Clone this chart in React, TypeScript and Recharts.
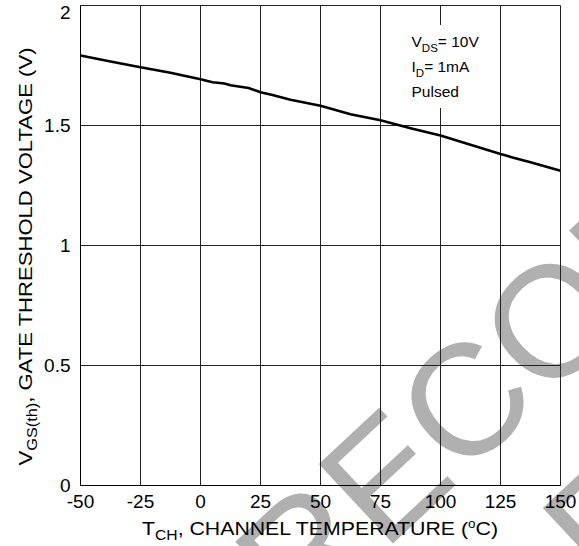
import React from 'react';
import { LineChart, Line, XAxis, YAxis, CartesianGrid } from 'recharts';

const temperatures = [-50, -37.5, -25, -12.5, 0, 5, 10, 12.5, 20, 25, 30, 37.5, 50, 62.5, 75, 87.5, 100, 112.5, 125, 130, 137.5, 150];
const vgsValues = [1.792, 1.767, 1.743, 1.72, 1.693, 1.68, 1.675, 1.668, 1.656, 1.639, 1.627, 1.607, 1.582, 1.547, 1.522, 1.489, 1.458, 1.42, 1.381, 1.367, 1.347, 1.311];
const xTicks = [-50, -25, 0, 25, 50, 75, 100, 125, 150];
const xTickLabels = ['-50', '-25', '0', '25', '50', '75', '100', '125', '150'];
const yTicks = [0, 0.5, 1, 1.5, 2];
const yTickLabels = ['0', '0.5', '1', '1.5', '2'];

const data = temperatures.map((t, i) => ({ t, v: vgsValues[i] }));

const FONT = 'Liberation Sans, Arial, Helvetica, sans-serif';

const YTick = (props: any) => {
  const { x, y, payload } = props;
  const idx = yTicks.indexOf(payload.value);
  const yy = Math.max(y, 12);
  return (
    <text x={x - 10} y={yy + 6.8} textAnchor="end" fontSize={19} fontFamily={FONT} fill="#000">
      {idx >= 0 ? yTickLabels[idx] : String(payload.value)}
    </text>
  );
};

const XTick = (props: any) => {
  const { x, y, payload } = props;
  const idx = xTicks.indexOf(payload.value);
  return (
    <text x={x} y={y + 22.5} textAnchor="middle" fontSize={19} fontFamily={FONT} fill="#000">
      {idx >= 0 ? xTickLabels[idx] : String(payload.value)}
    </text>
  );
};

export default function App() {
  return (
    <div style={{ position: 'absolute', left: 0, top: 0, width: 579, height: 546, background: '#fff', overflow: 'hidden' }}>
      <svg width={579} height={546} style={{ position: 'absolute', left: 0, top: 0, zIndex: 0 }}>
        <g transform="translate(300,630) rotate(-43)">
          <text x={0} y={0} fontSize={158} fontFamily={FONT} fill="#b0b0b0">RECOMMENDED</text>
          <text x={248} y={185} fontSize={158} fontFamily={FONT} fill="#b0b0b0">FOR NEW DESIGN</text>
        </g>
      </svg>
      <div style={{ position: 'absolute', left: 0, top: 0, zIndex: 1 }}>
        <LineChart width={579} height={546} data={data} margin={{ top: 5.5, right: 18.5, bottom: 0, left: 0 }}>
          <CartesianGrid stroke="#222" strokeWidth={1} horizontal vertical />
          <XAxis
            dataKey="t"
            type="number"
            domain={[-50, 150]}
            ticks={xTicks}
            interval={0}
            height={60.5}
            tickSize={0}
            tickMargin={0}
            tickLine={false}
            axisLine={{ stroke: '#000' }}
            tick={<XTick />}
            allowDataOverflow
          />
          <YAxis
            type="number"
            domain={[0, 2]}
            ticks={yTicks}
            interval={0}
            width={80.5}
            tickSize={0}
            tickMargin={0}
            tickLine={false}
            axisLine={{ stroke: '#000' }}
            tick={<YTick />}
            allowDataOverflow
          />
          <Line
            dataKey="v"
            type="linear"
            stroke="#000"
            strokeWidth={2.6}
            dot={false}
            activeDot={false}
            isAnimationActive={false}
          />
        </LineChart>
      </div>
      <svg width={579} height={546} style={{ position: 'absolute', left: 0, top: 0, zIndex: 2, pointerEvents: 'none' }}>
        <rect x={405} y={25} width={73} height={83} fill="#fff" />
        <text x={411.5} y={46.7} fontSize={15.5} fontFamily={FONT} fill="#000">
          V<tspan fontSize={11.5} dy={5}>DS</tspan><tspan dy={-5}>= 10V</tspan>
        </text>
        <text x={411.5} y={71.7} fontSize={15.5} fontFamily={FONT} fill="#000">
          I<tspan fontSize={11.5} dy={5}>D</tspan><tspan dy={-5}>= 1mA</tspan>
        </text>
        <text x={411.5} y={96.7} fontSize={15.5} fontFamily={FONT} fill="#000">Pulsed</text>
        <text x={320} y={535} textAnchor="middle" fontSize={19} fontFamily={FONT} fill="#000" textLength={356} lengthAdjust="spacingAndGlyphs">
          T<tspan fontSize={14} dy={5}>CH</tspan><tspan dy={-5}>, CHANNEL TEMPERATURE (</tspan><tspan fontSize={12} dy={-7}>o</tspan><tspan dy={7}>C)</tspan>
        </text>
        <text transform="translate(32,256.5) rotate(-90)" x={0} y={0} textAnchor="middle" fontSize={19} fontFamily={FONT} fill="#000" textLength={418} lengthAdjust="spacingAndGlyphs">
          V<tspan fontSize={14} dy={5}>GS(th)</tspan><tspan dy={-5}>, GATE THRESHOLD VOLTAGE (V)</tspan>
        </text>
      </svg>
    </div>
  );
}
